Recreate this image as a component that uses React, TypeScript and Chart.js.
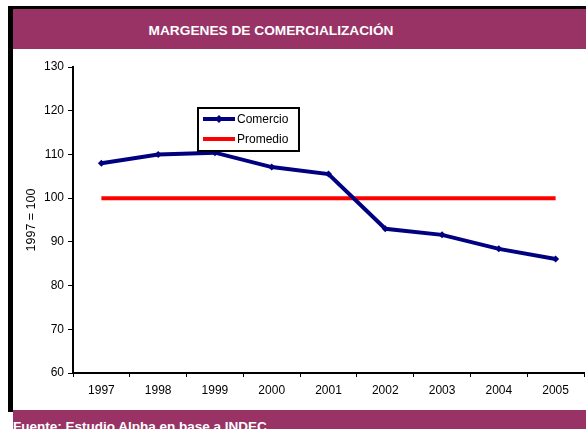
import React, { useEffect, useRef } from "react";
import { Chart, registerables } from "chart.js";

Chart.register(...registerables);

const categories = ["1997", "1998", "1999", "2000", "2001", "2002", "2003", "2004", "2005"];
const comercio = [108.0, 110.0, 110.4, 107.1, 105.5, 93.0, 91.6, 88.4, 86.1];
const promedio = [100, 100, 100, 100, 100, 100, 100, 100, 100];
const seriesNames = ["Comercio", "Promedio"];
const titleText = "MARGENES DE COMERCIALIZACIÓN";
const footerText = "Fuente: Estudio Alpha en base a INDEC";
const yAxisTitle = "1997 = 100";

const NAVY = "#000080";
const RED = "#FF0000";
const PURPLE = "#993366";
const FONT = "Arial, 'Liberation Sans', sans-serif";

const legendPlugin = {
  id: "customLegend",
  afterDraw(chart: any) {
    const ctx = chart.ctx;
    ctx.save();
    const bx = 185, by = 59, bw = 101, bh = 43;
    ctx.fillStyle = "#ffffff";
    ctx.fillRect(bx, by, bw, bh);
    ctx.strokeStyle = "#000000";
    ctx.lineWidth = 2;
    ctx.strokeRect(bx, by, bw, bh);
    const items = [
      { name: seriesNames[0], color: NAVY, y: 70, marker: true },
      { name: seriesNames[1], color: RED, y: 90, marker: false },
    ];
    items.forEach((it) => {
      ctx.strokeStyle = it.color;
      ctx.lineWidth = 4;
      ctx.beginPath();
      ctx.moveTo(190, it.y);
      ctx.lineTo(222, it.y);
      ctx.stroke();
      if (it.marker) {
        ctx.fillStyle = it.color;
        ctx.beginPath();
        ctx.moveTo(206, it.y - 4);
        ctx.lineTo(210, it.y);
        ctx.lineTo(206, it.y + 4);
        ctx.lineTo(202, it.y);
        ctx.closePath();
        ctx.fill();
      }
      ctx.fillStyle = "#000000";
      ctx.font = `12px ${FONT}`;
      ctx.textBaseline = "middle";
      ctx.textAlign = "left";
      ctx.fillText(it.name, 224, it.y + 1);
    });
    ctx.restore();
  },
};

export default function App() {
  const canvasRef = useRef<HTMLCanvasElement | null>(null);

  useEffect(() => {
    if (!canvasRef.current) return;
    const chart = new Chart(canvasRef.current, {
      type: "line",
      data: {
        labels: categories,
        datasets: [
          {
            label: seriesNames[0],
            data: comercio,
            borderColor: NAVY,
            backgroundColor: NAVY,
            borderWidth: 4,
            pointStyle: "rectRot",
            pointRadius: 3.5,
            pointBackgroundColor: NAVY,
            pointBorderWidth: 0,
            tension: 0,
          },
          {
            label: seriesNames[1],
            data: promedio,
            borderColor: RED,
            backgroundColor: RED,
            borderWidth: 4,
            pointRadius: 0,
            tension: 0,
          },
        ],
      },
      options: {
        animation: false,
        responsive: false,
        devicePixelRatio: 1,
        layout: { autoPadding: false, padding: { top: 18, right: 2, left: 0, bottom: 0 } },
        plugins: {
          legend: { display: false },
          tooltip: { enabled: false },
          title: { display: false },
        },
        scales: {
          x: {
            type: "category",
            offset: true,
            grid: {
              offset: true,
              drawOnChartArea: false,
              drawTicks: true,
              tickLength: 4,
              color: "#000000",
              lineWidth: 1,
            },
            border: { color: "#000000", width: 2 },
            ticks: { color: "#000000", font: { family: FONT, size: 12 }, padding: 6, maxRotation: 0 },
            afterFit: (s: any) => {
              s.height = 37;
              s.paddingLeft = 0;
              s.paddingRight = 0;
            },
          },
          y: {
            min: 60,
            max: 130,
            ticks: { stepSize: 10, color: "#000000", font: { family: FONT, size: 12 }, padding: 4 },
            grid: {
              drawOnChartArea: false,
              drawTicks: true,
              tickLength: 5,
              color: "#000000",
              lineWidth: 1,
            },
            border: { color: "#000000", width: 2 },
            title: {
              display: true,
              text: yAxisTitle,
              color: "#000000",
              font: { family: FONT, size: 12.5 },
              padding: { top: 11, bottom: 0 },
            },
            afterFit: (s: any) => {
              s.width = 60;
            },
          },
        },
      },
      plugins: [legendPlugin],
    });
    return () => chart.destroy();
  }, []);

  return (
    <div
      style={{
        position: "fixed",
        left: 0,
        top: 0,
        width: 586,
        height: 429,
        background: "#ffffff",
        overflow: "hidden",
        fontFamily: FONT,
      }}
    >
      <div style={{ position: "absolute", left: 8, top: 6, width: 600, height: 406, background: "#000000" }} />
      <div style={{ position: "absolute", left: 13, top: 9, width: 573, height: 40, background: PURPLE }} />
      <div
        style={{
          position: "absolute",
          left: 13,
          top: 23,
          width: 516,
          textAlign: "center",
          color: "#ffffff",
          fontWeight: "bold",
          fontSize: 13.7,
          lineHeight: "16px",
          whiteSpace: "nowrap",
        }}
      >
        {titleText}
      </div>
      <div style={{ position: "absolute", left: 13, top: 49, width: 573, height: 361, background: "#ffffff" }}>
        <canvas ref={canvasRef} width={573} height={361} style={{ display: "block", width: 573, height: 361 }} />
      </div>
      <div style={{ position: "absolute", left: 13, top: 410, width: 573, height: 30, background: PURPLE }} />
      <div
        style={{
          position: "absolute",
          left: 13,
          top: 419,
          color: "#ffffff",
          fontWeight: "bold",
          fontSize: 13.5,
          lineHeight: "15px",
          whiteSpace: "nowrap",
        }}
      >
        {footerText}
      </div>
    </div>
  );
}
